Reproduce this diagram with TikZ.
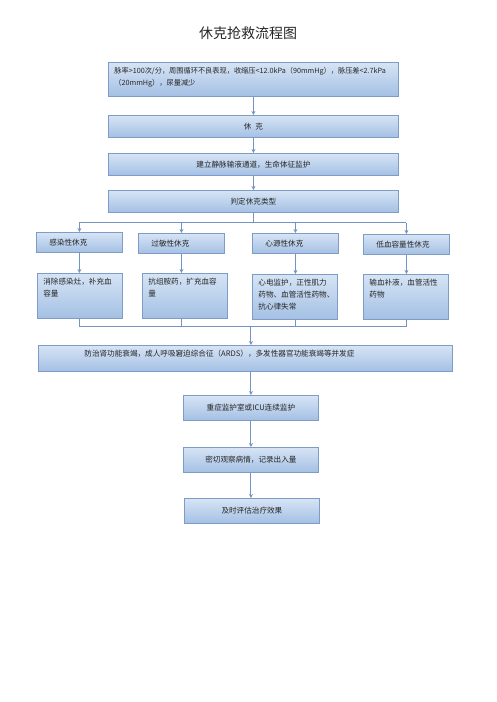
\documentclass[tikz,border=0pt]{standalone}
\usepackage{fontspec}
\usepackage{tikz}
\usepackage{xcolor}
\newfontfamily\cjk{Noto Sans CJK SC}
\usetikzlibrary{arrows.meta}
\definecolor{boxline}{HTML}{7E9CC6}
\definecolor{boxtop}{HTML}{D6E4F5}
\definecolor{boxbottom}{HTML}{A4C0E4}
\definecolor{wireblue}{HTML}{7393C0}
\newcommand{\flowtext}[3]{\begin{minipage}[t][#2][t]{#1}#3\end{minipage}}
\tikzset{
    flow-box/.style = {draw=boxline, line width=0.8pt, top color=boxtop, bottom color=boxbottom, rectangle, anchor=north west, inner xsep=6pt, inner ysep=5pt, text=black!85, font=\cjk\fontsize{7.6}{11.7}\selectfont},
    title-text/.style = {text=black!85, font=\cjk\fontsize{14}{16}\selectfont},
    flow-line/.style = {draw=wireblue, line width=0.9pt},
    flow-arrow/.style = {flow-line, -{Stealth[length=4pt,width=4pt]}},
}

\begin{document}
\begin{tikzpicture}[x=1pt,y=-1pt]
\useasboundingbox[fill=white] (0,0) rectangle (496,702);
\node[title-text] (title) at (248,33) {休克抢救流程图};

% main column
\node[flow-box] (signs) at (108,62) {\flowtext{278pt}{24pt}{\fontsize{7.2}{11.5}\selectfont 脉率>100次/分，周围循环不良表现，收缩压<12.0kPa（90mmHg），脉压差<2.7kPa\\（20mmHg），尿量减少}};
\node[flow-box, minimum width=290pt, minimum height=22pt] (shock) at (108,115) {休\enspace 克};
\node[flow-box, minimum width=290pt, minimum height=22pt] (access) at (108,153) {建立静脉输液通道，生命体征监护};
\node[flow-box, minimum width=290pt, minimum height=22pt] (judge) at (108,190) {判定休克类型};

% shock types
\node[flow-box, minimum width=86pt, minimum height=20pt, text width=60pt, align=left] (infect) at (36,232) {感染性休克};
\node[flow-box, minimum width=86pt, minimum height=20pt, text width=60pt, align=left] (allergy) at (138,233) {过敏性休克};
\node[flow-box, minimum width=86pt, minimum height=20pt, text width=60pt, align=left] (cardio) at (252,233) {心源性休克};
\node[flow-box, minimum width=86pt, minimum height=20pt, text width=60pt, align=left] (hypo) at (363,234) {低血容量性休克};

% treatments
\node[flow-box] (infect-care) at (37,273) {\flowtext{73pt}{35pt}{消除感染灶，补充血\\容量}};
\node[flow-box] (allergy-care) at (142,273) {\flowtext{73pt}{35pt}{抗组胺药，扩充血容\\量}};
\node[flow-box] (cardio-care) at (252,274) {\flowtext{73pt}{35pt}{心电监护，正性肌力\\药物、血管活性药物、\\抗心律失常}};
\node[flow-box] (hypo-care) at (363,274) {\flowtext{73pt}{35pt}{输血补液，血管活性\\药物}};

% after treatment
\node[flow-box] (ards) at (38,345) {\flowtext{402pt}{16pt}{\hspace*{40pt}防治肾功能衰竭，成人呼吸窘迫综合征（ARDS），多发性器官功能衰竭等并发症}};
\node[flow-box, minimum width=135pt, minimum height=25pt] (icu) at (183,395) {重症监护室或ICU连续监护};
\node[flow-box, minimum width=135pt, minimum height=25pt] (observe) at (183,447) {密切观察病情，记录出入量};
\node[flow-box, minimum width=135pt, minimum height=25pt] (assess) at (184,498) {及时评估治疗效果};

% connectors
\draw[flow-arrow] (signs.south) -- (shock.north);
\draw[flow-arrow] (shock.south) -- (access.north);
\draw[flow-arrow] (access.south) -- (judge.north);
\draw[flow-line] (judge.south) -- ++(0,10) coordinate (split);
\draw[flow-line] (split -| infect.north) -- (split -| hypo.north);
\path (infect-care.south) ++(0,8) coordinate (merge);
\draw[flow-line] (merge -| infect.south) -- (merge -| hypo.south);
\foreach \kind in {infect,allergy,cardio,hypo} {
    \draw[flow-arrow] (split -| \kind.north) -- (\kind.north);
    \draw[flow-arrow] (\kind.south) -- (\kind.south |- \kind-care.north);
    \draw[flow-line] (\kind.south |- \kind-care.south) -- (\kind.south |- merge);
}
\draw[flow-arrow] (merge -| icu.north) -- (icu.north |- ards.north);
\draw[flow-arrow] (ards.south -| icu.north) -- (icu.north);
\draw[flow-arrow] (icu.south) -- (observe.north);
\draw[flow-arrow] (observe.south) -- (observe.south |- assess.north);
\end{tikzpicture}
\end{document}
